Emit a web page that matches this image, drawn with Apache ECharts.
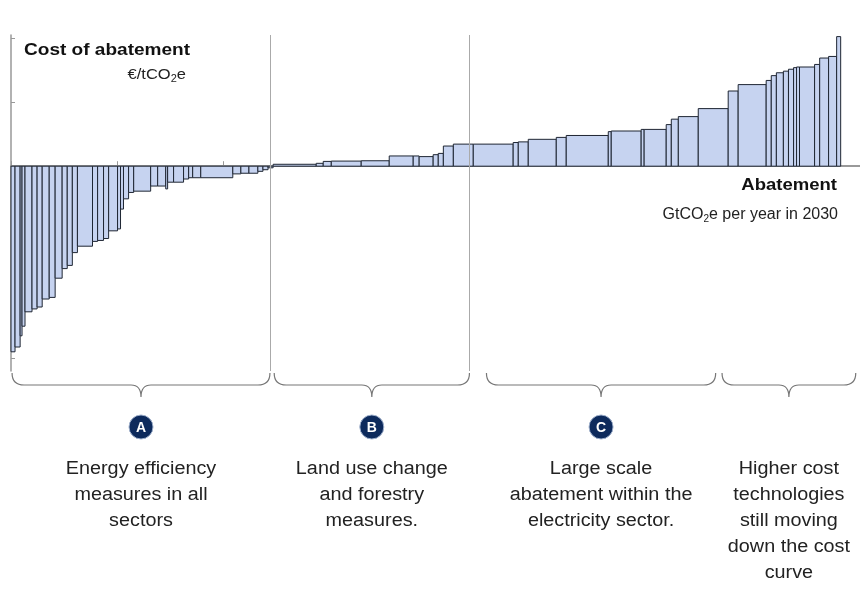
<!DOCTYPE html>
<html>
<head>
<meta charset="utf-8">
<script src="https://cdn.jsdelivr.net/npm/echarts@6/dist/echarts.min.js"></script>
<style>
  html, body { margin: 0; padding: 0; background: #fff; }
  #chart { width: 860px; height: 601px; }
</style>
</head>
<body>
<div id="chart"></div>
<script>
// abatement potential of each measure (Gt CO2e / year), left to right
const widths = [
  0.19, 0.24, 0.09, 0.14, 0.33, 0.24, 0.24, 0.33, 0.28, 0.33,
  0.24, 0.24, 0.24, 0.71, 0.24, 0.28, 0.24, 0.42, 0.14, 0.14,
  0.24, 0.24, 0.80, 0.33, 0.38, 0.09, 0.28, 0.47, 0.24, 0.19,
  0.38, 1.51, 0.38, 0.38, 0.42, 0.24, 0.24, 0.24,
  2.03, 0.33, 0.38, 1.41, 1.32, 1.13, 0.28, 0.66, 0.24, 0.24,
  0.47, 0.94, 1.88, 0.24, 0.47, 1.32, 0.47, 1.98, 0.14, 1.41,
  0.14, 1.04, 0.24, 0.33, 0.94, 1.41, 0.47, 1.32, 0.24, 0.24,
  0.33, 0.24, 0.24, 0.14, 0.14, 0.71, 0.24, 0.42, 0.38, 0.19
];
// cost of each measure (EUR / t CO2e)
const costs = [
  -58, -56.5, -53, -50, -45.5, -44.6, -44, -41.5, -41, -35,
  -32, -31, -27, -25, -23.5, -23.2, -22.6, -20.2, -19.6, -13.4,
  -10.2, -8.2, -7.8, -6.2, -6.2, -7.1, -5, -5, -4, -3.6,
  -3.6, -3.6, -2.4, -2.2, -2.2, -1.6, -1.1, -0.5,
  0.6, 0.9, 1.5, 1.6, 1.7, 3.2, 3.2, 3.0, 3.6, 4.0,
  6.3, 6.9, 6.9, 7.4, 7.6, 8.4, 9.0, 9.6, 10.8, 11.0,
  11.5, 11.5, 13.0, 14.7, 15.5, 18.0, 23.5, 25.5, 26.8, 28.3,
  29.2, 29.7, 30.3, 30.8, 31.0, 31.0, 31.8, 33.8, 34.3, 40.5
];
const yTicks = [-60, -40, -20, 0, 20, 40];
const dividers = [12.2, 21.6];

const groupStarts = [0.05, 12.4, 22.4, 33.5];
const groupEnds = [12.2, 21.6, 33.2, 39.8];
const groupLetters = ['A', 'B', 'C', ''];
const groupTexts = [
  'Energy efficiency\nmeasures in all\nsectors',
  'Land use change\nand forestry\nmeasures.',
  'Large scale\nabatement within the\nelectricity sector.',
  'Higher cost\ntechnologies\nstill moving\ndown the cost\ncurve'
];

let acc = 0;
const bars = widths.map((w, i) => {
  const item = [acc, acc + w, costs[i]];
  acc += w;
  return item;
});
const groups = groupStarts.map((s, i) => [s, groupEnds[i], i]);

const chart = echarts.init(document.getElementById('chart'));
const font = '"Liberation Sans", Arial, sans-serif';

chart.setOption({
  animation: false,
  grid: { left: 11, right: 0, top: 35, bottom: 230 },
  xAxis: {
    type: 'value',
    min: 0,
    max: 40,
    interval: 5,
    axisLine: { onZero: true, lineStyle: { color: '#999', width: 2 } },
    axisTick: { inside: true, length: 5, lineStyle: { color: '#999' } },
    axisLabel: { show: false },
    splitLine: { show: false }
  },
  yAxis: {
    type: 'value',
    min: -64,
    max: 41,
    axisLine: { show: true, lineStyle: { color: '#999', width: 1.5 } },
    axisTick: { show: true, inside: true, length: 4, customValues: yTicks, lineStyle: { color: '#999' } },
    axisLabel: { show: false, customValues: yTicks },
    splitLine: { show: false }
  },
  graphic: [
    {
      type: 'text', x: 24, y: 42, scaleX: 1.12,
      style: { text: 'Cost of abatement', font: 'bold 17px ' + font, fill: '#111' }
    },
    {
      type: 'text', x: 186, y: 66, scaleX: 1.1,
      style: {
        text: '{a|€/tCO}{s|2}{a|e}',
        align: 'right',
        rich: {
          a: { font: '15px ' + font, fill: '#222' },
          s: { font: '10px ' + font, fill: '#222', padding: [8, 0, 0, 0] }
        }
      }
    },
    {
      type: 'text', x: 837, y: 177, scaleX: 1.09,
      style: { text: 'Abatement', font: 'bold 17px ' + font, fill: '#111', align: 'right' }
    },
    {
      type: 'text', x: 838, y: 206,
      style: {
        text: '{a|GtCO}{s|2}{a|e per year in 2030}',
        align: 'right',
        rich: {
          a: { font: '16px ' + font, fill: '#222' },
          s: { font: '10px ' + font, fill: '#222', padding: [8, 0, 0, 0] }
        }
      }
    }
  ],
  series: [
    {
      type: 'custom',
      data: bars,
      encode: { x: [0, 1], y: 2 },
      renderItem: function (params, api) {
        const p0 = api.coord([api.value(0), 0]);
        const p1 = api.coord([api.value(1), api.value(2)]);
        return {
          type: 'rect',
          shape: {
            x: p0[0],
            y: Math.min(p0[1], p1[1]),
            width: p1[0] - p0[0],
            height: Math.abs(p1[1] - p0[1])
          },
          style: { fill: '#c6d3f0', stroke: '#1f2633', lineWidth: 1 }
        };
      },
      markLine: {
        silent: true,
        symbol: 'none',
        label: { show: false },
        lineStyle: { color: '#aaa', width: 1, type: 'solid' },
        data: dividers.map((v) => ({ xAxis: v }))
      }
    },
    {
      // braces, badges and captions under each group of measures
      type: 'custom',
      data: groups,
      encode: { x: [0, 1] },
      silent: true,
      renderItem: function (params, api) {
        const i = api.value(2);
        const x0 = api.coord([api.value(0), -64])[0];
        const x1 = api.coord([api.value(1), -64])[0];
        const base = api.coord([api.value(0), -64])[1];
        const xm = (x0 + x1) / 2;
        const yt = base + 2, yl = base + 14, yb = base + 26;
        const children = [
          {
            type: 'path',
            shape: {
              pathData:
                'M' + x0 + ',' + yt + ' Q' + x0 + ',' + yl + ' ' + (x0 + 12) + ',' + yl +
                ' L' + (xm - 10) + ',' + yl + ' Q' + xm + ',' + yl + ' ' + xm + ',' + yb +
                ' Q' + xm + ',' + yl + ' ' + (xm + 10) + ',' + yl +
                ' L' + (x1 - 12) + ',' + yl + ' Q' + x1 + ',' + yl + ' ' + x1 + ',' + yt
            },
            style: { fill: 'none', stroke: '#777', lineWidth: 1.2 }
          },
          {
            type: 'text', x: xm, y: base + 85, scaleX: 1.1,
            style: {
              text: groupTexts[i], font: '18px ' + font, fill: '#222',
              align: 'center', verticalAlign: 'top', lineHeight: 26
            }
          }
        ];
        if (groupLetters[i]) {
          children.push({
            type: 'circle',
            shape: { cx: xm, cy: base + 56, r: 12 },
            style: { fill: '#0d2a5c', stroke: '#9fb0cc', lineWidth: 1 }
          });
          children.push({
            type: 'text', x: xm, y: base + 57,
            style: {
              text: groupLetters[i], font: 'bold 14px ' + font, fill: '#fff',
              align: 'center', verticalAlign: 'middle'
            }
          });
        }
        return { type: 'group', children: children };
      }
    }
  ]
});
</script>
</body>
</html>
